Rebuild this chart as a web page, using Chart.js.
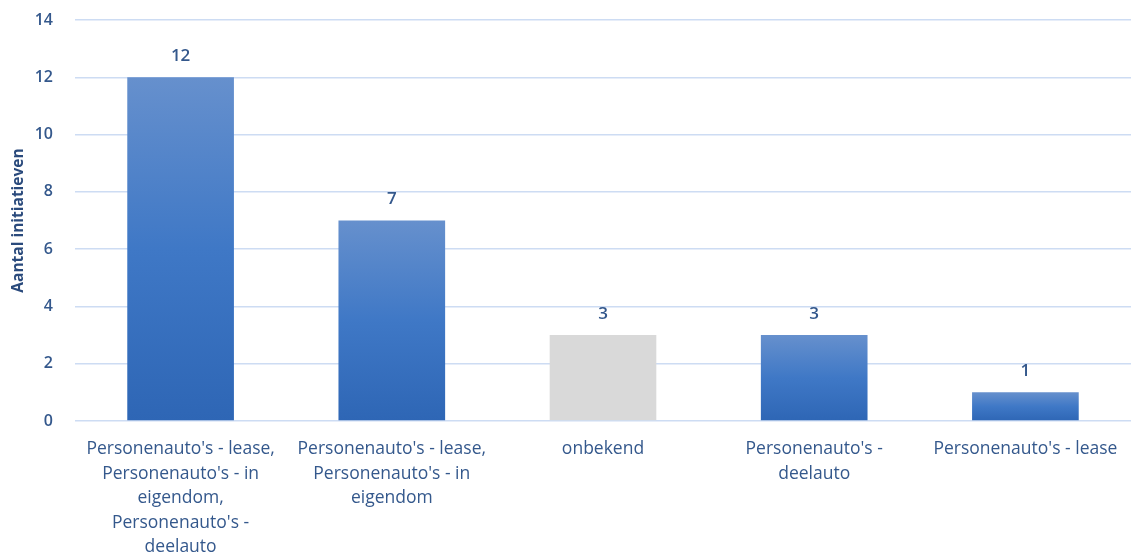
<!DOCTYPE html>
<html>
<head>
<meta charset="utf-8">
<script src="https://cdn.jsdelivr.net/npm/chart.js@4.4.1/dist/chart.umd.min.js"></script>
<style>
  html, body { margin: 0; padding: 0; background: #fff; }
  #wrap { width: 1131px; height: 553px; }
</style>
</head>
<body>
<div id="wrap"><canvas id="chart"></canvas></div>
<script>
const categories = [
  ["Personenauto's - lease,", "Personenauto's - in", "eigendom,", "Personenauto's -", "deelauto"],
  ["Personenauto's - lease,", "Personenauto's - in", "eigendom"],
  "onbekend",
  ["Personenauto's -", "deelauto"],
  "Personenauto's - lease"
];
const values = [12, 7, 3, 3, 1];
const yTicks = [0, 2, 4, 6, 8, 10, 12, 14];
const yTitle = "Aantal initiatieven";

const textColor = "#34588c";
const gridColor = "#cddcf3";
const fontFamily = "'Open Sans', Lato, sans-serif";

// blue gradient per bar, grey for "onbekend"
const barFill = (ctx) => {
  const chart = ctx.chart;
  if (categories[ctx.dataIndex] === "onbekend") return "#d9d9d9";
  const y = chart.scales.y;
  if (!y || ctx.raw == null) return "#4a7cc4";
  const top = y.getPixelForValue(ctx.raw);
  const bottom = y.getPixelForValue(0);
  if (!isFinite(top) || !isFinite(bottom) || top === bottom) return "#4a7cc4";
  const g = chart.ctx.createLinearGradient(0, top, 0, bottom);
  g.addColorStop(0, "#6690cd");
  g.addColorStop(0.5, "#3f78c6");
  g.addColorStop(1, "#2e66b5");
  return g;
};

const valueLabels = {
  id: "valueLabels",
  afterDatasetsDraw(chart) {
    const c = chart.ctx;
    const meta = chart.getDatasetMeta(0);
    c.save();
    c.font = "600 17px " + fontFamily;
    c.fillStyle = textColor;
    c.textAlign = "center";
    c.textBaseline = "middle";
    meta.data.forEach((bar, i) => {
      c.fillText(String(values[i]), bar.x, bar.y - 21);
    });
    c.restore();
  }
};

new Chart(document.getElementById("chart"), {
  type: "bar",
  data: {
    labels: categories,
    datasets: [{
      data: values,
      backgroundColor: barFill,
      borderWidth: 0,
      categoryPercentage: 1,
      barPercentage: 0.505
    }]
  },
  options: {
    responsive: true,
    maintainAspectRatio: false,
    animation: false,
    layout: { padding: { top: 0, left: 0, bottom: 0, right: -5 } },
    plugins: {
      legend: { display: false },
      tooltip: { enabled: false }
    },
    scales: {
      x: {
        grid: { display: false, drawTicks: false },
        border: { display: false },
        ticks: {
          color: textColor,
          font: { family: fontFamily, size: 17.5, lineHeight: 1.4 },
          padding: 16,
          maxRotation: 0,
          autoSkip: false
        },
        afterFit: (scale) => {
          scale.height = 132;
          scale.paddingLeft = 0;
          scale.paddingRight = 0;
        }
      },
      y: {
        min: 0,
        max: 14,
        afterBuildTicks: (scale) => { scale.ticks = yTicks.map(v => ({ value: v })); },
        grid: { color: gridColor, lineWidth: 1.5, drawTicks: false },
        border: { display: false },
        ticks: {
          color: textColor,
          font: { family: fontFamily, size: 16, weight: "600" },
          padding: 22
        },
        title: {
          display: true,
          text: yTitle,
          color: "#2a4a7c",
          font: { family: fontFamily, size: 15.5, weight: "bold" },
          padding: { top: 9, bottom: 0 }
        },
        afterFit: (scale) => {
          scale.width = 75;
          scale.paddingTop = 20;
        }
      }
    }
  },
  plugins: [valueLabels]
});
</script>
</body>
</html>
